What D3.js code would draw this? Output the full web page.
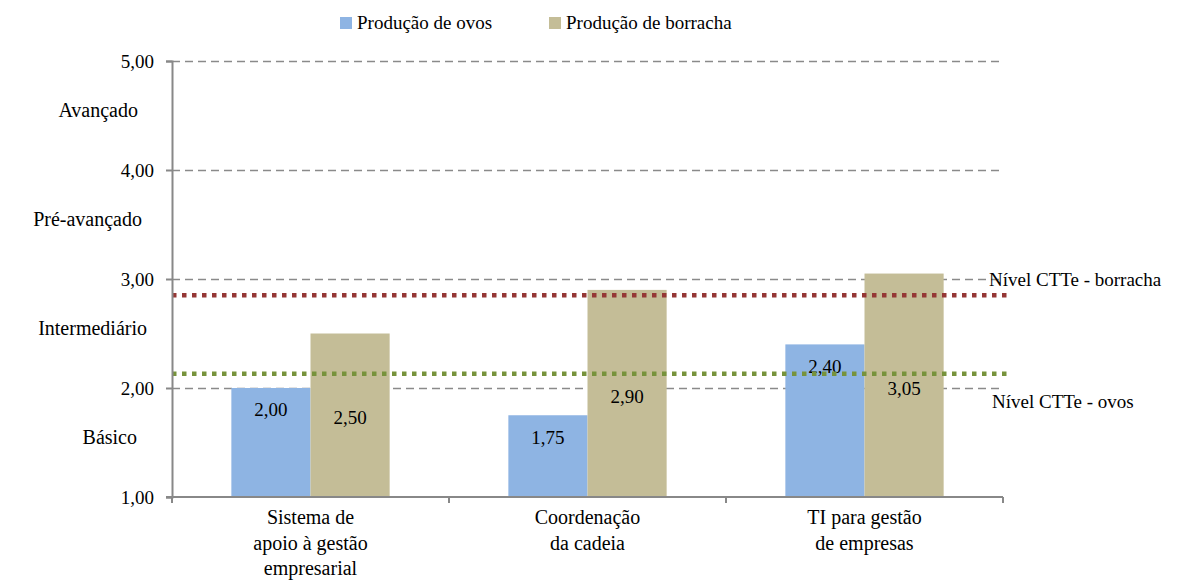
<!DOCTYPE html>
<html>
<head>
<meta charset="utf-8">
<script src="https://cdn.jsdelivr.net/npm/d3@7"></script>
<style>
  body { margin: 0; background: #fff; }
</style>
</head>
<body>
<div id="chart"></div>
<script>
// data
const categories = [
  ["Sistema de", "apoio à gestão", "empresarial"],
  ["Coordenação", "da cadeia"],
  ["TI para gestão", "de empresas"]
];
const seriesNames = ["Produção de ovos", "Produção de borracha"];
const ovos = [2.00, 1.75, 2.40];
const borracha = [2.50, 2.90, 3.05];
const yTicks = [1, 2, 3, 4, 5];
const levels = ["Básico", "Intermediário", "Pré-avançado", "Avançado"];
const levelMid = [1.5, 2.5, 3.5, 4.5];
const refNames = ["Nível CTTe - borracha", "Nível CTTe - ovos"];
const refValues = [2.85, 2.13];

const W = 1187, H = 583;
const margin = {top: 61, left: 172, right: 184, bottom: 86};
const width = W - margin.left - margin.right,
      height = H - margin.top - margin.bottom;

const colors = ["#8EB4E3", "#C4BD97"];
const refColors = ["#953735", "#77933C"];

const svg = d3.select("#chart").append("svg")
    .attr("width", W).attr("height", H)
    .attr("font-family", "Liberation Serif");
const g = svg.append("g")
    .attr("transform", `translate(${margin.left},${margin.top})`);

const x = d3.scaleBand().domain(d3.range(categories.length)).range([0, width]);
const xs = d3.scaleBand().domain([0, 1]).range([0, x.bandwidth()])
    .paddingInner(0).paddingOuter(0.75);
const y = d3.scaleLinear().domain([1, 5]).range([height, 0]);

// gridlines
g.append("g").selectAll("line").data(yTicks.slice(1)).join("line")
    .attr("x1", 0).attr("x2", width - 3)
    .attr("y1", d => Math.round(y(d)) + 0.5).attr("y2", d => Math.round(y(d)) + 0.5)
    .attr("stroke", "#8a8a8a").attr("stroke-width", 1.3)
    .attr("stroke-dasharray", "8,5");

// bars
const series = [ovos, borracha];
const groups = g.append("g").selectAll("g").data(categories).join("g")
    .attr("transform", (d, i) => `translate(${x(i)},0)`);
groups.selectAll("rect").data((d, i) => series.map((s, k) => ({k, v: s[i]}))).join("rect")
    .attr("x", d => xs(d.k)).attr("width", xs.bandwidth())
    .attr("y", d => y(d.v)).attr("height", d => y(1) - y(d.v))
    .attr("fill", d => colors[d.k]);

// value labels (the tan ones were dragged down in the original)
const labelDrop = [[21, 84], [22, 106], [22, 115]];
groups.selectAll("text.val").data((d, i) => series.map((s, k) => ({k, v: s[i], i}))).join("text")
    .attr("class", "val")
    .attr("x", d => xs(d.k) + xs.bandwidth() / 2)
    .attr("y", d => y(d.v) + labelDrop[d.i][d.k])
    .attr("dy", "0.35em")
    .attr("text-anchor", "middle")
    .attr("font-size", 19)
    .text(d => d3.format(".2f")(d.v).replace(".", ","));

// reference lines
g.append("g").selectAll("line").data(refValues).join("line")
    .attr("x1", 0).attr("x2", width + 6)
    .attr("y1", d => y(d)).attr("y2", d => y(d))
    .attr("stroke", (d, i) => refColors[i]).attr("stroke-width", 4.5)
    .attr("stroke-dasharray", "4.5,5.5");

g.append("text").attr("x", width - 14).attr("y", y(3)).attr("dy", "0.35em")
    .attr("font-size", 19).text(refNames[0]);
g.append("text").attr("x", width - 11).attr("y", y(2) + 13).attr("dy", "0.35em")
    .attr("font-size", 19).text(refNames[1]);

// y axis
const yAxis = g.append("g").call(d3.axisLeft(y).tickValues(yTicks).tickSize(6)
    .tickFormat(d => d3.format(".2f")(d).replace(".", ",")));
yAxis.attr("font-family", null).attr("font-size", 19);
yAxis.select(".domain").attr("stroke", "#888").attr("stroke-width", 2);
yAxis.selectAll(".tick line").attr("stroke", "#888").attr("stroke-width", 2);
yAxis.selectAll(".tick text").attr("x", -18).attr("fill", "#000");

// level names
const levelRight = [-35, -25, -30, -34];
g.append("g").selectAll("text").data(levels).join("text")
    .attr("x", (d, i) => levelRight[i])
    .attr("y", (d, i) => y(levelMid[i]) - 6)
    .attr("dy", "0.35em").attr("text-anchor", "end")
    .attr("font-size", 20).text(d => d);

// x axis
const xAxis = g.append("g").attr("transform", `translate(0,${height})`);
xAxis.append("line").attr("x1", -6).attr("x2", width).attr("stroke", "#888").attr("stroke-width", 2);
xAxis.selectAll("line.t").data(d3.range(categories.length + 1)).join("line")
    .attr("class", "t")
    .attr("x1", d => d < categories.length ? x(d) : width)
    .attr("x2", d => d < categories.length ? x(d) : width)
    .attr("y1", 0).attr("y2", 6).attr("stroke", "#888").attr("stroke-width", 2);
xAxis.selectAll("text").data(categories).join("text")
    .attr("x", (d, i) => x(i) + x.bandwidth() / 2)
    .attr("y", 27).attr("text-anchor", "middle")
    .attr("font-size", 20)
    .selectAll("tspan").data(d => d).join("tspan")
    .attr("x", function() { return this.parentNode.getAttribute("x"); })
    .attr("dy", (d, j) => j === 0 ? 0 : 25.5)
    .text(d => d);

// legend
const legend = svg.append("g").attr("transform", "translate(340,22)");
const li = legend.selectAll("g").data(seriesNames).join("g")
    .attr("transform", (d, i) => `translate(${i * 209},0)`);
li.append("rect").attr("x", 0).attr("y", -5).attr("width", 12).attr("height", 12)
    .attr("fill", (d, i) => colors[i]);
li.append("text").attr("x", 17).attr("y", 0).attr("dy", "0.35em")
    .attr("font-size", 19).text(d => d);
</script>
</body>
</html>
